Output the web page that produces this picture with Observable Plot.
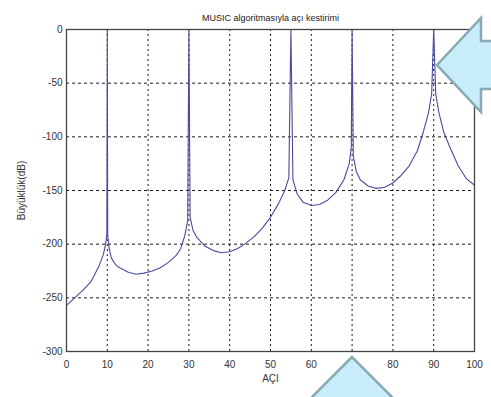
<!DOCTYPE html>
<html>
<head>
<meta charset="utf-8">
<script src="https://cdn.jsdelivr.net/npm/d3@7"></script>
<script src="https://cdn.jsdelivr.net/npm/@observablehq/plot@0.6"></script>
<style>
  html, body { margin: 0; padding: 0; background: #fff; }
  #wrap { position: relative; width: 491px; height: 397px; overflow: hidden; }
  #overlay { position: absolute; left: 0; top: 0; pointer-events: none; }
</style>
</head>
<body>
<div id="wrap"></div>
<script>
const titleText = "MUSIC algoritmasıyla açı kestirimi";
const xLabel = "AÇI";
const yLabel = "Büyüklük(dB)";
const xTicks = [0,10,20,30,40,50,60,70,80,90,100];
const yTicks = [0,-50,-100,-150,-200,-250,-300];

const angles = [0,2,4,6,8,9,9.6,9.9,10,10.1,10.5,11,12,13,15,17,19,21,23,25,27,28,29,29.7,30,30.3,31,32,34,36,38,40,42,44,46,48,50,52,53.5,54.5,55,55.5,56.5,58,60,62,64,66,68,69.3,69.8,70,70.3,71,72,74,76,78,80,82,84,86,87.5,88.7,89.5,90,90.5,91.3,92.5,94,96,98,100];
const dB = [-257,-250,-243,-235,-220,-210,-200,-190,0,-192,-205,-213,-219,-222,-226,-228,-227,-225,-222,-217,-210,-204,-192,-178,0,-175,-187,-194,-202,-206,-208,-207,-204,-199,-193,-185,-175,-162,-150,-138,0,-140,-153,-161,-164,-163,-159,-152,-140,-125,-110,0,-118,-132,-140,-146,-148,-147,-143,-136,-127,-113,-95,-78,-60,0,-60,-78,-96,-110,-127,-139,-145];

const data = angles.map((a, i) => ({angle: a, db: dB[i]}));

const font = "'Liberation Sans', Arial, sans-serif";

const chart = Plot.plot({
  width: 491,
  height: 397,
  marginLeft: 66,
  marginRight: 17,
  marginTop: 29,
  marginBottom: 46,
  style: {fontFamily: font, fontSize: "10px", color: "#333", background: "#fff"},
  x: {domain: [0, 100], ticks: xTicks, tickFormat: d => String(d), label: xLabel, labelAnchor: "center", labelArrow: "none", labelOffset: 30, tickSize: 0, tickPadding: 9},
  y: {domain: [-300, 0], ticks: yTicks, tickFormat: d => String(d), label: yLabel, labelAnchor: "center", labelArrow: "none", labelOffset: 49, tickSize: 0, tickPadding: 4},
  marks: [
    Plot.gridX(xTicks.slice(1, -1), {stroke: "#000", strokeOpacity: 0.9, strokeDasharray: "2,3"}),
    Plot.gridY(yTicks.slice(1, -1), {stroke: "#000", strokeOpacity: 0.9, strokeDasharray: "3,3"}),
    Plot.line(data, {x: "angle", y: "db", stroke: "#4a4aa0", strokeWidth: 1.1, clip: true}),
    Plot.frame({stroke: "#444", strokeWidth: 1.3}),
    Plot.text([titleText], {frameAnchor: "top", dy: -15, text: d => d, fontSize: 9, fill: "#222"})
  ]
});
chart.style.display = "block";
document.getElementById("wrap").appendChild(chart);

// Decorative callout arrows overlaid on the picture
const ns = "http://www.w3.org/2000/svg";
const ov = document.createElementNS(ns, "svg");
ov.setAttribute("id", "overlay");
ov.setAttribute("width", "491");
ov.setAttribute("height", "397");
const arrows = [
  "437,65 481,18 481,41 495,41 495,89 481,89 481,112",
  "352,357 310,399 394,399"
];
arrows.forEach(p => {
  const poly = document.createElementNS(ns, "polygon");
  poly.setAttribute("points", p);
  poly.setAttribute("fill", "#c8ecf8");
  poly.setAttribute("stroke", "#88a9b4");
  poly.setAttribute("stroke-width", "2.5");
  poly.setAttribute("stroke-linejoin", "miter");
  ov.appendChild(poly);
});
document.getElementById("wrap").appendChild(ov);
</script>
</body>
</html>
